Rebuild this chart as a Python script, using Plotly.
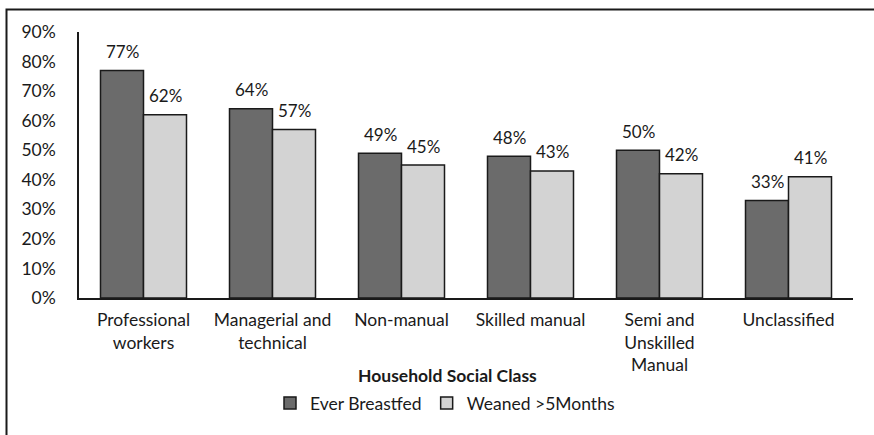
import plotly.graph_objects as go

# Household social class categories and breastfeeding rates (%)
categories = ["Professional<br>workers", "Managerial and<br>technical", "Non-manual",
              "Skilled manual", "Semi and<br>Unskilled<br>Manual", "Unclassified"]
ever_breastfed = [77, 64, 49, 48, 50, 33]
weaned_5months = [62, 57, 45, 43, 42, 41]
y_ticks = [0, 10, 20, 30, 40, 50, 60, 70, 80, 90]

FONT = "Lato"
FS = 17.5
W, H = 874, 435
ML, MR, MT, MB = 79, 21, 32, 137
pw, ph = W - ML - MR, H - MT - MB


def px_x(p):
    return (p - ML) / pw


def px_y(p):
    return (H - MB - p) / ph


fig = go.Figure()
fig.add_trace(go.Bar(
    name="Ever Breastfed", x=categories, y=ever_breastfed,
    marker=dict(color="#6b6b6b", line=dict(color="#1a1a1a", width=1.5)),
))
fig.add_trace(go.Bar(
    name="Weaned >5Months", x=categories, y=weaned_5months,
    marker=dict(color="#d3d3d3", line=dict(color="#1a1a1a", width=1.5)),
))

# value labels above each bar
half = pw / len(categories) * (1 - 1 / 3) / 4
for series, shift in ((ever_breastfed, -half), (weaned_5months, half)):
    for cat, v in zip(categories, series):
        fig.add_annotation(x=cat, y=v, text=f"{v}%", showarrow=False,
                           xshift=shift, yshift=19, yanchor="middle",
                           font=dict(family=FONT, size=17, color="#1a1a1a"))

# x-axis title
fig.add_annotation(xref="paper", yref="paper", x=px_x(447.5), y=px_y(375),
                   text="<b>Household Social Class</b>", showarrow=False,
                   xanchor="center", yanchor="middle",
                   font=dict(family=FONT, size=FS, color="#1a1a1a"))

# outer chart frame
fig.add_shape(type="rect", xref="paper", yref="paper",
              x0=px_x(6.5), x1=px_x(W + 10),
              y0=px_y(H + 10), y1=px_y(9.5),
              line=dict(color="#1a1a1a", width=2), layer="below")

fig.update_layout(
    width=W, height=H,
    margin=dict(l=ML, r=MR, t=MT, b=MB),
    paper_bgcolor="white", plot_bgcolor="white",
    barmode="group", bargap=1 / 3, bargroupgap=0,
    font=dict(family=FONT, size=FS, color="#1a1a1a"),
    showlegend=True,
    legend=dict(orientation="h", x=px_x(270), xanchor="left", y=px_y(403), yanchor="middle",
                itemwidth=30, font=dict(size=FS), traceorder="normal"),
    xaxis=dict(
        showline=True, linecolor="#1a1a1a", linewidth=1.5,
        ticks="", tickfont=dict(size=FS), ticklabelstandoff=5,
    ),
    yaxis=dict(
        range=[0, 90], tickvals=y_ticks, ticktext=[f"{t}%" for t in y_ticks],
        showline=True, linecolor="#1a1a1a", linewidth=1.5,
        showgrid=False, zeroline=False, ticks="", ticklen=0,
        tickfont=dict(size=FS), ticklabelstandoff=18,
    ),
)

fig.write_html("out.html")
